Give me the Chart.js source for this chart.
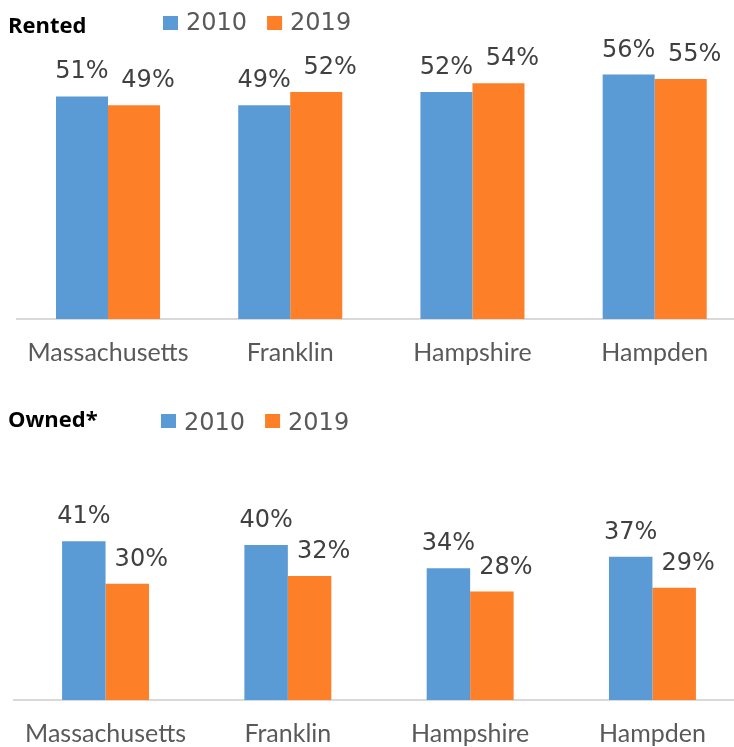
<!DOCTYPE html>
<html>
<head>
<meta charset="utf-8">
<title>Rented vs Owned</title>
<script src="https://cdn.jsdelivr.net/npm/chart.js@4.4.1/dist/chart.umd.min.js"></script>
<style>
  html, body { margin: 0; padding: 0; background: #fff; overflow: hidden; }
  body { position: relative; width: 734px; height: 747px; }
  canvas { display: block; position: absolute; left: 0; }
  #rentedChart { top: 0; }
  #ownedChart { top: 370px; }
</style>
</head>
<body>
<canvas id="rentedChart" width="760" height="390"></canvas>
<canvas id="ownedChart" width="760" height="400"></canvas>
<script>
// data
const categories = ['Massachusetts', 'Franklin', 'Hampshire', 'Hampden'];
const seriesNames = ['2010', '2019'];
const rented2010 = [51, 49, 52, 56];
const rented2019 = [49, 52, 54, 55];
const owned2010 = [41, 40, 34, 37];
const owned2019 = [30, 32, 28, 29];

const BLUE = '#5B9BD5';
const ORANGE = '#FD7F28';

// title + legend on one line, drawn on the canvas
const headerPlugin = {
    id: 'header',
    afterDraw(chart, args, opts) {
        const ctx = chart.ctx;
        ctx.save();
        ctx.fillStyle = '#000';
        ctx.font = 'bold 22px "Open Sans"';
        ctx.textBaseline = 'alphabetic';
        ctx.textAlign = 'left';
        ctx.fillText(opts.title, 8, opts.titleY);

        let x = opts.legendX;
        ctx.font = '24px "DejaVu Sans"';
        chart.data.datasets.forEach(ds => {
            ctx.fillStyle = ds.backgroundColor;
            ctx.fillRect(x, opts.boxY, 15, 14);
            ctx.fillStyle = '#595959';
            ctx.fillText(ds.label, x + 23, opts.legendY);
            x += 23 + ctx.measureText(ds.label).width + 20;
        });
        ctx.restore();
    }
};

// value labels above the bars
const valueLabels = {
    id: 'valueLabels',
    afterDatasetsDraw(chart, args, opts) {
        const ctx = chart.ctx;
        ctx.save();
        ctx.font = '24px "DejaVu Sans"';
        ctx.fillStyle = '#404040';
        ctx.textAlign = 'center';
        ctx.textBaseline = 'alphabetic';
        chart.data.datasets.forEach((ds, di) => {
            const meta = chart.getDatasetMeta(di);
            const shift = di === 1 ? opts.shift : 0;
            meta.data.forEach((bar, i) => {
                ctx.fillText(ds.data[i] + '%', bar.x + shift, bar.y - 18);
            });
        });
        ctx.restore();
    }
};

function makeChart(id, a, b, cfg) {
    const ctx = document.getElementById(id).getContext('2d');
    return new Chart(ctx, {
        type: 'bar',
        data: {
            labels: categories,
            datasets: [
                { label: seriesNames[0], data: a, backgroundColor: BLUE, borderWidth: 0 },
                { label: seriesNames[1], data: b, backgroundColor: ORANGE, borderWidth: 0 }
            ]
        },
        options: {
            responsive: false,
            animation: false,
            layout: { padding: cfg.padding },
            datasets: {
                bar: { categoryPercentage: cfg.catPct, barPercentage: 1 }
            },
            plugins: {
                legend: { display: false },
                tooltip: { enabled: false },
                header: cfg.header,
                valueLabels: { shift: 14 }
            },
            scales: {
                y: { display: false, min: 0, max: cfg.yMax },
                x: {
                    grid: { display: false, drawTicks: false },
                    border: { display: true, color: '#D9D9D9', width: 2 },
                    ticks: {
                        color: '#595959',
                        padding: 19,
                        font: { family: 'Lato', size: 25 }
                    }
                }
            }
        },
        plugins: [headerPlugin, valueLabels]
    });
}

makeChart('rentedChart', rented2010, rented2019, {
    yMax: 70,
    catPct: 0.571,
    padding: { top: 13.5, left: 16.9, right: 14.2, bottom: 3 },
    header: { title: 'Rented', titleY: 33, legendX: 163, boxY: 16, legendY: 30 }
});

makeChart('ownedChart', owned2010, owned2019, {
    yMax: 80,
    catPct: 0.477,
    padding: { top: 20.2, left: 14.4, right: 16.4, bottom: 2 },
    header: { title: 'Owned*', titleY: 57, legendX: 161, boxY: 44, legendY: 60 }
});
</script>
</body>
</html>
